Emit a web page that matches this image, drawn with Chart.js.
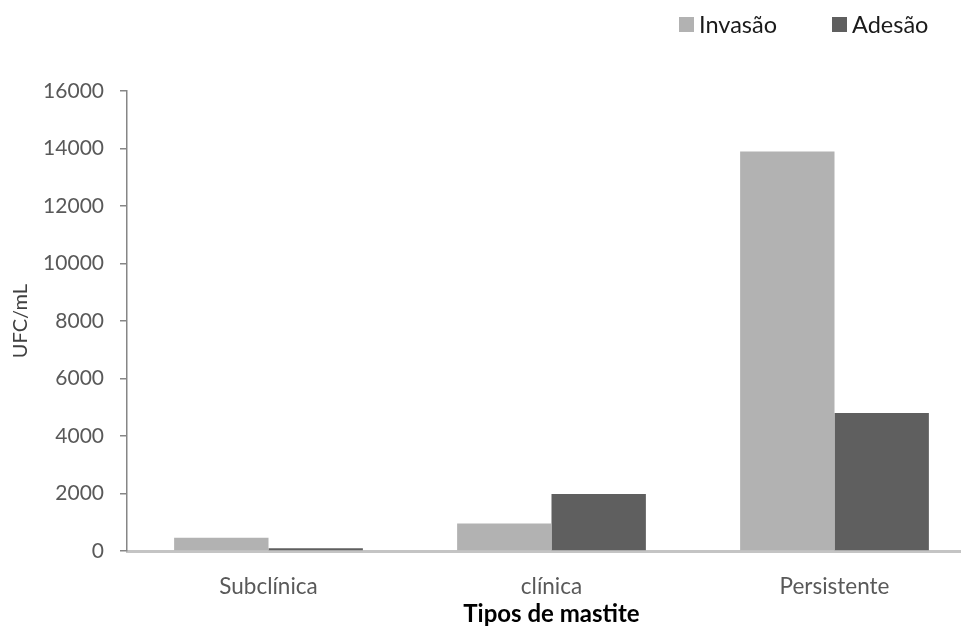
<!DOCTYPE html>
<html lang="pt">
<head>
<meta charset="utf-8">
<title>UFC/mL por tipo de mastite</title>
<script src="https://cdn.jsdelivr.net/npm/chart.js@4.4.1/dist/chart.umd.min.js"></script>
<style>
  html, body { margin: 0; padding: 0; background: #ffffff; overflow: hidden; }
  #wrap { width: 976px; height: 633px; }
</style>
</head>
<body>
<div id="wrap"><canvas id="c" width="976" height="633"></canvas></div>
<script>
// Categories and series (UFC/mL)
const categories = ['Subclínica', 'clínica', 'Persistente'];
const invasao = [460, 960, 13900];
const adesao = [100, 1980, 4800];
const yTicks = [0, 2000, 4000, 6000, 8000, 10000, 12000, 14000, 16000];

const seriesNames = ['Invasão', 'Adesão'];
const seriesColors = ['#b2b2b2', '#5f5f5f'];

const FONT = 'Lato, "Open Sans", sans-serif';

// Legend drawn at the top right, square swatch followed by the series name
const legendPlugin = {
  id: 'cornerLegend',
  afterDraw(chart) {
    const ctx = chart.ctx;
    const items = chart.data.datasets;
    const startX = [679, 832];
    ctx.save();
    ctx.font = '23.5px ' + FONT;
    ctx.textBaseline = 'middle';
    ctx.textAlign = 'left';
    items.forEach((ds, i) => {
      ctx.fillStyle = ds.backgroundColor;
      ctx.fillRect(startX[i], 17, 15, 15);
      ctx.fillStyle = '#1a1a1a';
      ctx.fillText(ds.label, startX[i] + 20, 25);
    });
    ctx.restore();
  }
};

new Chart(document.getElementById('c'), {
  type: 'bar',
  data: {
    labels: categories,
    datasets: [
      { label: seriesNames[0], data: invasao, backgroundColor: seriesColors[0] },
      { label: seriesNames[1], data: adesao, backgroundColor: seriesColors[1] }
    ]
  },
  options: {
    responsive: false,
    animation: false,
    layout: { padding: { top: 91, right: 0, bottom: 4, left: 9 } },
    datasets: { bar: { categoryPercentage: 0.667, barPercentage: 1.0 } },
    plugins: {
      legend: { display: false },
      tooltip: { enabled: false }
    },
    scales: {
      x: {
        afterFit(scale) { scale.height = 78; },
        grid: { display: false, drawTicks: false },
        border: { display: true, color: '#c4c4c4', width: 3 },
        ticks: { color: '#595959', font: { family: FONT, size: 22.5 }, padding: 22 },
        title: {
          display: true,
          text: 'Tipos de mastite',
          color: '#000000',
          font: { family: FONT, size: 24, weight: 'bold' },
          padding: { top: 1, bottom: 0 }
        }
      },
      y: {
        min: 0,
        max: 16000,
        afterFit(scale) { scale.width = 118; },
        afterBuildTicks(axis) { axis.ticks = yTicks.map(v => ({ value: v })); },
        grid: { display: true, drawOnChartArea: false, drawTicks: true, tickLength: 7, color: '#868686', lineWidth: 1.5 },
        border: { display: true, color: '#868686', width: 1.5 },
        ticks: {
          color: '#595959',
          font: { family: FONT, size: 21 },
          padding: 16,
          callback: (v) => String(v)
        },
        title: {
          display: true,
          text: 'UFC/mL',
          color: '#404040',
          font: { family: FONT, size: 20 },
          padding: { top: 0, bottom: 0 }
        }
      }
    }
  },
  plugins: [legendPlugin]
});
</script>
</body>
</html>
